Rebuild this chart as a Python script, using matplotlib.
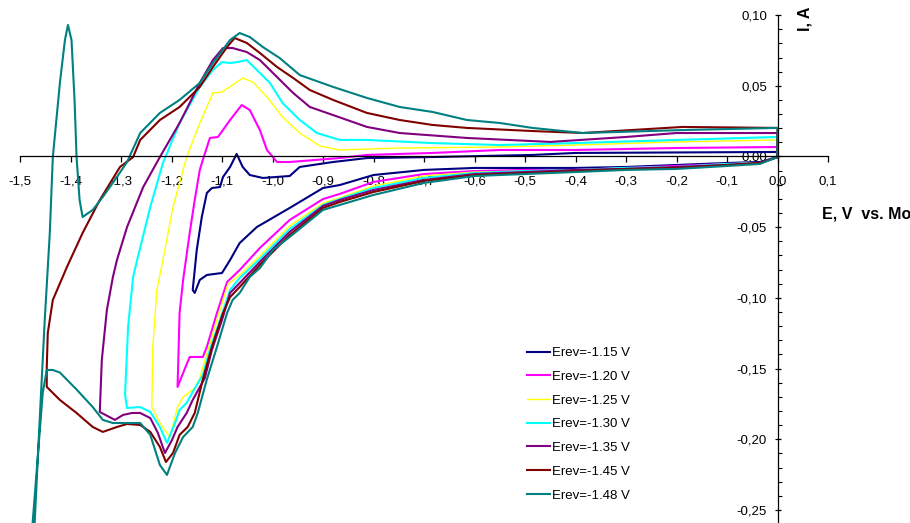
import matplotlib
matplotlib.use("Agg")
import matplotlib.pyplot as plt
import matplotlib.ticker as mticker

plt.rcParams["font.family"] = ["Liberation Sans", "DejaVu Sans"]

# ── 데이터: 각 CV 루프 (0 V -> Erev -> 0 V) ─────────────────────────────
E_115 = [0.000, -0.035, -0.100, -0.200, -0.300, -0.400, -0.500, -0.600, -0.700, -0.800,
         -0.867, -0.900, -0.966, -1.031, -1.065, -1.084, -1.100, -1.130, -1.144, -1.154,
         -1.158, -1.150, -1.140, -1.130, -1.120, -1.104, -1.098, -1.084, -1.071, -1.059,
         -1.045, -1.019, -0.966, -0.946, -0.880, -0.813, -0.683, -0.485, -0.400, 0.000, 0.000]
I_115 = [-0.0004, -0.0039, -0.0046, -0.0060, -0.0074, -0.0081, -0.0081, -0.0081, -0.0095, -0.0131,
         -0.0202, -0.0223, -0.0364, -0.0499, -0.0612, -0.0732, -0.0824, -0.0838, -0.0873, -0.0965,
         -0.0944, -0.0661, -0.0428, -0.0258, -0.0223, -0.0216, -0.0145, -0.0074, 0.0018, -0.0074,
         -0.0131, -0.0152, -0.0138, -0.0074, -0.0039, -0.0011, -0.0004, 0.0011, 0.0025, 0.0032, -0.0004]

E_120 = [0.000, -0.035, -0.100, -0.200, -0.300, -0.400, -0.500, -0.600, -0.700, -0.800,
         -0.867, -0.900, -0.966, -1.025, -1.065, -1.090, -1.110, -1.130, -1.138, -1.164,
         -1.177, -1.188, -1.184, -1.177, -1.164, -1.154, -1.144, -1.138, -1.124, -1.108,
         -1.084, -1.061, -1.045, -1.025, -1.011, -0.991, -0.966, -0.867, -0.813, -0.683,
         -0.550, -0.400, -0.200, 0.000, 0.000]
I_120 = [-0.0004, -0.0046, -0.0053, -0.0067, -0.0081, -0.0095, -0.0095, -0.0103, -0.0124, -0.0180,
         -0.0265, -0.0301, -0.0449, -0.0647, -0.0803, -0.0888, -0.1107, -0.1347, -0.1418, -0.1418,
         -0.1531, -0.1630, -0.1107, -0.0873, -0.0541, -0.0308, -0.0095, -0.0025, 0.0131, 0.0138,
         0.0258, 0.0364, 0.0329, 0.0187, 0.0046, -0.0039, -0.0039, -0.0011, 0.0011, 0.0025,
         0.0046, 0.0046, 0.0060, 0.0067, -0.0004]

E_125 = [0.000, -0.035, -0.100, -0.200, -0.300, -0.400, -0.500, -0.600, -0.700, -0.800,
         -0.867, -0.900, -0.966, -1.025, -1.065, -1.088, -1.106, -1.126, -1.144, -1.154,
         -1.177, -1.188, -1.197, -1.203, -1.209, -1.223, -1.233, -1.239, -1.237, -1.229,
         -1.217, -1.197, -1.170, -1.144, -1.118, -1.100, -1.079, -1.059, -1.039, -1.011,
         -0.980, -0.946, -0.906, -0.867, -0.748, -0.550, -0.400, -0.200, 0.000, 0.000]
I_125 = [-0.0004, -0.0046, -0.0053, -0.0074, -0.0081, -0.0095, -0.0103, -0.0110, -0.0138, -0.0209,
         -0.0293, -0.0329, -0.0492, -0.0704, -0.0838, -0.0902, -0.1107, -0.1347, -0.1567, -0.1638,
         -0.1701, -0.1772, -0.1899, -0.1984, -0.1955, -0.1885, -0.1814, -0.1772, -0.1347, -0.0944,
         -0.0732, -0.0357, -0.0004, 0.0237, 0.0449, 0.0456, 0.0506, 0.0555, 0.0527, 0.0421,
         0.0279, 0.0166, 0.0074, 0.0046, 0.0060, 0.0067, 0.0081, 0.0103, 0.0117, -0.0004]

E_130 = [0.000, -0.035, -0.100, -0.200, -0.300, -0.400, -0.500, -0.600, -0.700, -0.800,
         -0.867, -0.900, -0.966, -1.025, -1.065, -1.084, -1.104, -1.124, -1.138, -1.158,
         -1.170, -1.184, -1.193, -1.209, -1.223, -1.242, -1.262, -1.288, -1.292, -1.288,
         -1.286, -1.276, -1.268, -1.242, -1.217, -1.184, -1.144, -1.118, -1.100, -1.084,
         -1.069, -1.051, -1.031, -1.005, -0.980, -0.946, -0.912, -0.867, -0.813, -0.683,
         -0.550, -0.400, -0.200, 0.000, 0.000]
I_130 = [-0.0004, -0.0046, -0.0053, -0.0074, -0.0081, -0.0095, -0.0103, -0.0117, -0.0152, -0.0223,
         -0.0301, -0.0343, -0.0513, -0.0725, -0.0859, -0.0944, -0.1156, -0.1368, -0.1545, -0.1665,
         -0.1743, -0.1793, -0.1885, -0.2026, -0.1913, -0.1807, -0.1772, -0.1779, -0.1686, -0.1368,
         -0.1206, -0.0852, -0.0732, -0.0357, -0.0046, 0.0237, 0.0492, 0.0612, 0.0668, 0.0661,
         0.0668, 0.0682, 0.0612, 0.0520, 0.0378, 0.0258, 0.0166, 0.0117, 0.0117, 0.0095,
         0.0081, 0.0095, 0.0117, 0.0138, -0.0004]

E_135 = [0.000, -0.035, -0.100, -0.200, -0.300, -0.400, -0.500, -0.600, -0.700, -0.800,
         -0.867, -0.900, -0.966, -1.025, -1.065, -1.084, -1.100, -1.120, -1.134, -1.158,
         -1.170, -1.188, -1.199, -1.213, -1.227, -1.242, -1.262, -1.278, -1.296, -1.312,
         -1.342, -1.338, -1.328, -1.316, -1.308, -1.288, -1.256, -1.223, -1.184, -1.144,
         -1.118, -1.098, -1.079, -1.051, -1.025, -0.991, -0.959, -0.926, -0.880, -0.813,
         -0.748, -0.615, -0.450, -0.300, -0.200, 0.000, 0.000]
I_135 = [-0.0004, -0.0046, -0.0060, -0.0074, -0.0088, -0.0095, -0.0110, -0.0124, -0.0166, -0.0237,
         -0.0308, -0.0350, -0.0534, -0.0746, -0.0895, -0.0965, -0.1156, -0.1368, -0.1567, -0.1722,
         -0.1814, -0.1913, -0.2005, -0.2097, -0.1955, -0.1850, -0.1814, -0.1814, -0.1828, -0.1863,
         -0.1807, -0.1439, -0.1086, -0.0852, -0.0732, -0.0499, -0.0216, -0.0004, 0.0237, 0.0520,
         0.0682, 0.0767, 0.0767, 0.0739, 0.0682, 0.0562, 0.0449, 0.0350, 0.0293, 0.0209,
         0.0166, 0.0131, 0.0103, 0.0138, 0.0166, 0.0166, -0.0004]

E_145 = [0.000, -0.035, -0.100, -0.200, -0.300, -0.400, -0.500, -0.600, -0.700, -0.800,
         -0.867, -0.900, -0.966, -1.025, -1.065, -1.084, -1.098, -1.120, -1.138, -1.154,
         -1.168, -1.184, -1.197, -1.211, -1.223, -1.242, -1.262, -1.288, -1.308, -1.336,
         -1.356, -1.388, -1.421, -1.447, -1.447, -1.445, -1.435, -1.407, -1.376, -1.342,
         -1.302, -1.276, -1.262, -1.223, -1.184, -1.144, -1.118, -1.090, -1.075, -1.051,
         -1.025, -0.991, -0.959, -0.926, -0.880, -0.813, -0.748, -0.683, -0.615, -0.485,
         -0.386, -0.188, 0.000, 0.000]
I_145 = [-0.0004, -0.0046, -0.0060, -0.0081, -0.0088, -0.0103, -0.0117, -0.0131, -0.0173, -0.0251,
         -0.0322, -0.0364, -0.0555, -0.0767, -0.0923, -0.0994, -0.1107, -0.1347, -0.1577, -0.1814,
         -0.1913, -0.1969, -0.2097, -0.2161, -0.2054, -0.1948, -0.1899, -0.1892, -0.1913, -0.1948,
         -0.1913, -0.1814, -0.1722, -0.1630, -0.1489, -0.1248, -0.1015, -0.0781, -0.0541, -0.0308,
         -0.0074, -0.0004, 0.0117, 0.0258, 0.0350, 0.0492, 0.0633, 0.0774, 0.0838, 0.0803,
         0.0732, 0.0633, 0.0555, 0.0470, 0.0400, 0.0308, 0.0258, 0.0223, 0.0202, 0.0180,
         0.0166, 0.0209, 0.0202, -0.0004]

E_148 = [0.000, -0.035, -0.100, -0.200, -0.300, -0.400, -0.500, -0.600, -0.700, -0.800,
         -0.867, -0.900, -0.966, -0.999, -1.025, -1.045, -1.065, -1.079, -1.090, -1.110,
         -1.130, -1.148, -1.158, -1.177, -1.193, -1.209, -1.223, -1.242, -1.262, -1.288,
         -1.316, -1.336, -1.356, -1.388, -1.421, -1.435, -1.447, -1.455, -1.475, -1.481,
         -1.471, -1.461, -1.451, -1.441, -1.435, -1.421, -1.411, -1.405, -1.398, -1.392,
         -1.388, -1.382, -1.376, -1.356, -1.336, -1.308, -1.288, -1.262, -1.223, -1.184,
         -1.144, -1.118, -1.084, -1.065, -1.045, -1.019, -0.986, -0.946, -0.880, -0.813,
         -0.748, -0.683, -0.615, -0.550, -0.485, -0.386, -0.188, 0.000, 0.000]
I_148 = [-0.0004, -0.0053, -0.0067, -0.0088, -0.0095, -0.0110, -0.0124, -0.0138, -0.0187, -0.0272,
         -0.0343, -0.0378, -0.0569, -0.0661, -0.0789, -0.0852, -0.0965, -0.1015, -0.1107, -0.1347,
         -0.1577, -0.1814, -0.1913, -0.1984, -0.2097, -0.2252, -0.2182, -0.1969, -0.1885, -0.1885,
         -0.1885, -0.1863, -0.1772, -0.1648, -0.1528, -0.1510, -0.1510, -0.1673, -0.2592, -0.2825,
         -0.2592, -0.1863, -0.1156, -0.0541, -0.0004, 0.0520, 0.0824, 0.0930, 0.0824, 0.0400,
         -0.0004, -0.0308, -0.0428, -0.0378, -0.0286, -0.0145, -0.0039, 0.0166, 0.0308, 0.0400,
         0.0520, 0.0661, 0.0824, 0.0873, 0.0845, 0.0774, 0.0697, 0.0576, 0.0492, 0.0414,
         0.0350, 0.0315, 0.0258, 0.0237, 0.0202, 0.0166, 0.0187, 0.0202, -0.0004]

LABELS = ["Erev=-1.15 V", "Erev=-1.20 V", "Erev=-1.25 V", "Erev=-1.30 V",
          "Erev=-1.35 V", "Erev=-1.45 V", "Erev=-1.48 V"]
COLORS = ["#000080", "#FF00FF", "#FFFF00", "#00FFFF", "#800080", "#800000", "#008080"]
SERIES = [(E_115, I_115), (E_120, I_120), (E_125, I_125), (E_130, I_130),
          (E_135, I_135), (E_145, I_145), (E_148, I_148)]

X_TICKS = [-1.5, -1.4, -1.3, -1.2, -1.1, -1.0, -0.9, -0.8, -0.7, -0.6,
           -0.5, -0.4, -0.3, -0.2, -0.1, 0.0, 0.1]
Y_TICKS = [-0.25, -0.20, -0.15, -0.10, -0.05, 0.00, 0.05, 0.10]

# ── 그림 ──────────────────────────────────────────────────────────────
fig = plt.figure(figsize=(9.1, 5.23), dpi=100)
ax = fig.add_axes([20 / 910, -1.1 / 523, 808 / 910, 509 / 523])

for (e, i), lab, col in zip(SERIES, LABELS, COLORS):
    lw = 1.0 if col == "#FFFF00" else 1.5
    ax.plot(e, i, color=col, lw=lw, label=lab, solid_joinstyle="round")

ax.set_xlim(-1.5, 0.1)
ax.set_ylim(-0.26, 0.10)

for s in ["top", "right"]:
    ax.spines[s].set_visible(False)
ax.spines["left"].set_position(("data", 0))
ax.spines["bottom"].set_position(("data", 0))
ax.spines["left"].set_linewidth(0.9)
ax.spines["bottom"].set_linewidth(0.9)

ax.set_xticks(X_TICKS)
ax.set_yticks(Y_TICKS)
ax.yaxis.set_minor_locator(mticker.MultipleLocator(0.01))


def fmt_x(v, pos):
    s = f"{v:.1f}".replace(".", ",")
    return "0,0" if s == "-0,0" else s


def fmt_y(v, pos):
    s = f"{v:.2f}".replace(".", ",")
    return "0,00" if s == "-0,00" else s


ax.xaxis.set_major_formatter(mticker.FuncFormatter(fmt_x))
ax.yaxis.set_major_formatter(mticker.FuncFormatter(fmt_y))
ax.tick_params(axis="x", which="major", direction="out", length=4, width=0.9,
               pad=9.5, labelsize=9.5)
ax.tick_params(axis="y", which="major", direction="inout", length=5, width=0.9,
               pad=5, labelsize=9.5)
ax.tick_params(axis="y", which="minor", direction="in", length=3, width=0.8)

fig.text(805 / 910, 1 - 19 / 523, "I, A", rotation=90, ha="center", va="center",
         fontsize=11.5, fontweight="bold")
fig.text(822 / 910, 1 - 214 / 523, "E, V  vs. Mo", ha="left", va="center",
         fontsize=11.5, fontweight="bold")

ax.legend(loc="upper left", bbox_to_anchor=(527 / 910, 1 - 347 / 523),
          bbox_transform=fig.transFigure, frameon=False, fontsize=9.5,
          handlelength=1.75, handletextpad=0.15, labelspacing=0.87,
          borderpad=0, borderaxespad=0)

fig.savefig("out.png", dpi=100)
